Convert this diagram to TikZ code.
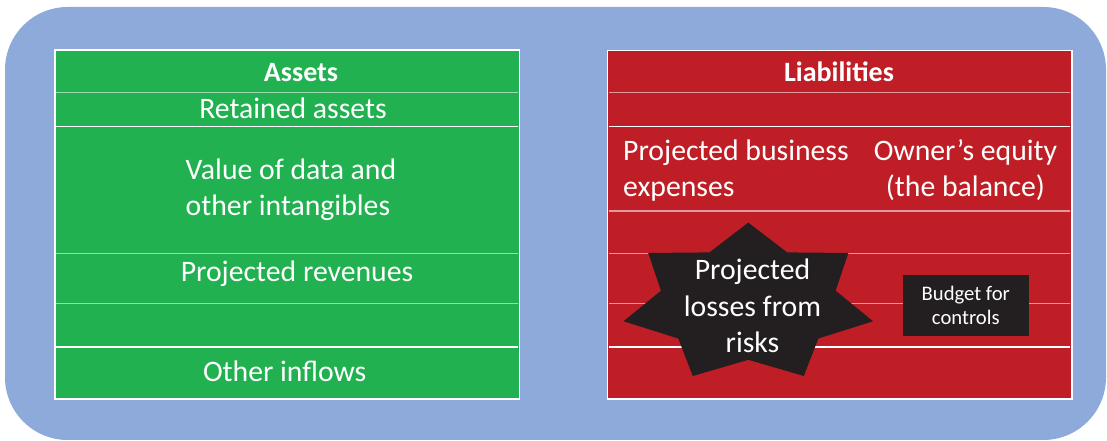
\documentclass[tikz,border=0pt]{standalone}
\usepackage{fontspec}
\setmainfont{Carlito}
\definecolor{panelblue}{RGB}{142,170,218}
\definecolor{assetgreen}{RGB}{33,177,80}
\definecolor{liabred}{RGB}{191,30,38}
\definecolor{riskblack}{RGB}{35,31,32}
\tikzset{every picture/.style={line width=0.75pt}}
\tikzset{
  sheetframe/.style={draw=white,line width=1.2pt},
  rowline/.style={draw=white,draw opacity=0.55,line width=1.2pt},
  rowrule/.style={draw=white,line width=0.9pt},
  celltext/.style={text=white,font=\fontsize{22.3}{27.5}\selectfont,inner sep=0pt},
  headtext/.style={celltext,font=\bfseries\fontsize{21}{26}\selectfont},
}

\begin{document}
\begin{tikzpicture}[x=0.75pt,y=0.75pt,yscale=-1,xscale=1]
\useasboundingbox (0,0) rectangle (1107,441);

%Shape: Rounded Rect (background)
\fill [panelblue, rounded corners=47pt] (5,7) rectangle (1106,440);

%Shape: Rectangle (assets)
\fill [assetgreen] (55,50) rectangle (519.5,399);
\foreach \ypos in {92.7,253.5,303.5} {\draw [rowline] (56,\ypos) -- (517.5,\ypos);}
\foreach \ypos in {126.5,347} {\draw [rowrule] (56,\ypos) -- (517.5,\ypos);}
\draw [sheetframe] (55,50) rectangle (519.5,399);

%Shape: Rectangle (liabilities)
\fill [liabred] (607.5,50.5) rectangle (1072,399);
\foreach \ypos in {92.7,211,253.5,303.5} {\draw [rowline] (609,\ypos) -- (1070,\ypos);}
\foreach \ypos in {126.5,347} {\draw [rowrule] (609,\ypos) -- (1070,\ypos);}
\draw [sheetframe] (607.5,50.5) rectangle (1072,399);

%Shape: Star (7 points)
\begin{scope}[shift={(748.3,303.3)}]
\fill [riskblack] (-90:128 and 80.7) \foreach \k in {0,...,6} { -- ({-90+\k*360/7}:128 and 80.7) -- ({-90+\k*360/7+360/14}:89.6 and 56.5) } -- cycle;
\end{scope}

%Shape: Rectangle (budget)
\draw (965.8,305.4) node (budget) [fill=riskblack, minimum width=94.7pt, minimum height=45.5pt, inner sep=0pt, align=center, text=white, font=\fontsize{15.5}{17.5}\selectfont] {Budget for\\controls};

% Text Node
\draw (301,81.7) node (assets) [anchor=base][headtext] {Assets};
% Text Node
\draw (293,118.3) node (retained) [anchor=base][celltext] {Retained assets};
% Text Node
\draw (291,216) node (intangibles) [anchor=base][celltext, align=left] {Value of data and\\other intangibles};
% Text Node
\draw (297,282) node (revenues) [anchor=base][celltext] {Projected revenues};
% Text Node
\draw (284.7,381.7) node (inflows) [anchor=base][celltext] {Other inflows};
% Text Node
\draw (839,81.7) node (liabilities) [anchor=base][headtext] {Liabilities};
% Text Node
\draw (622.7,196.7) node (expenses) [anchor=base west][celltext, align=left] {Projected business\\expenses};
% Text Node
\draw (965.5,196.7) node (equity) [anchor=base][celltext, align=center] {Owner’s equity\\(the balance)};
% Text Node
\draw (752.5,352.7) node (losses) [anchor=base][celltext, align=center] {Projected\\losses from\\risks};

\end{tikzpicture}
\end{document}
